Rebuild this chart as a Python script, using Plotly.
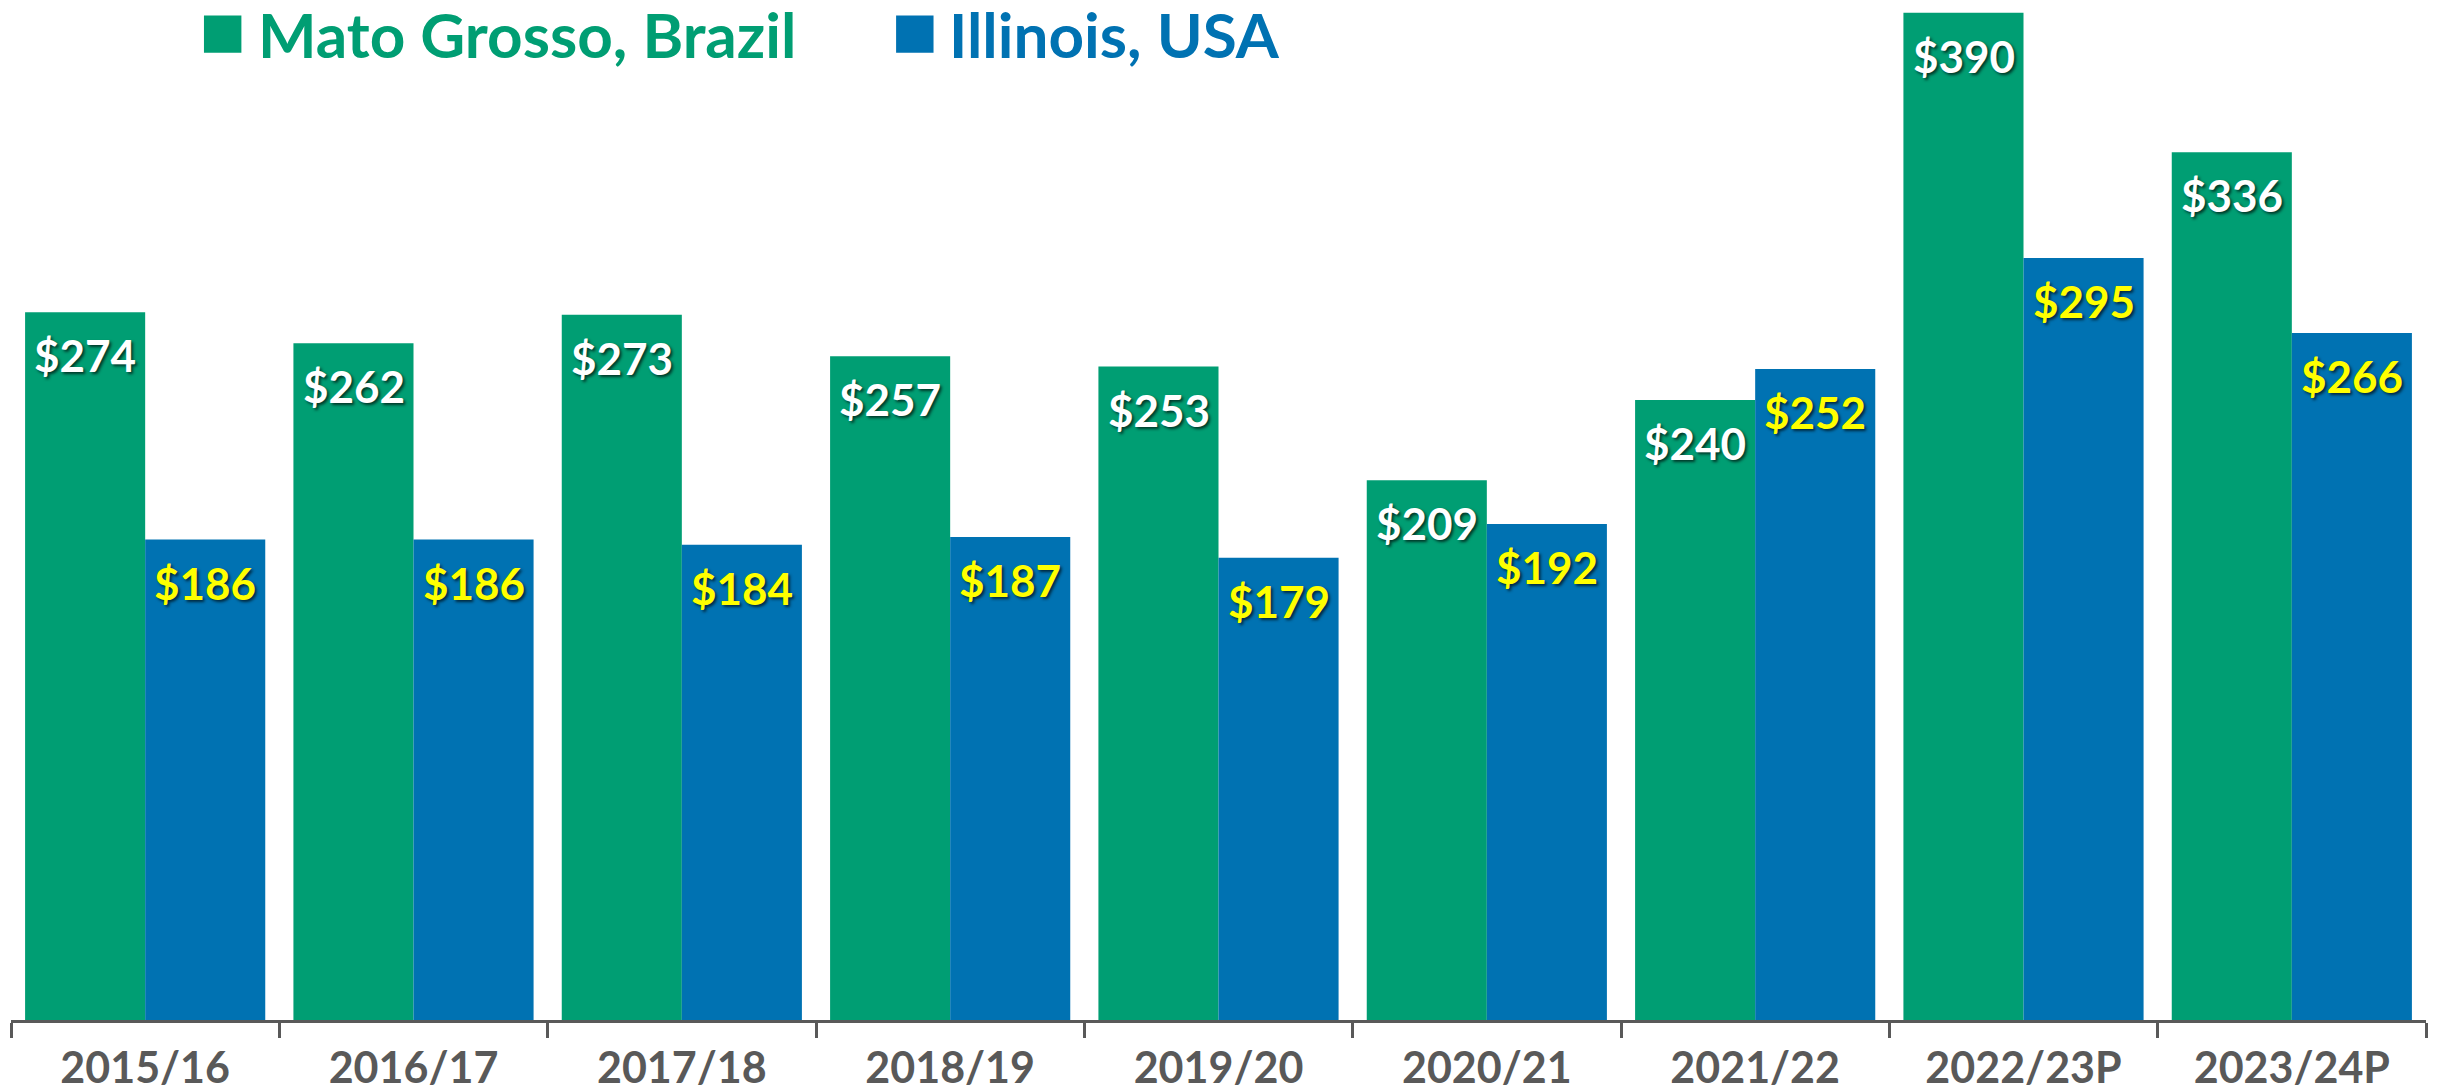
import plotly.graph_objects as go

seasons = ['2015/16', '2016/17', '2017/18', '2018/19', '2019/20',
           '2020/21', '2021/22', '2022/23P', '2023/24P']
mato_grosso = [274, 262, 273, 257, 253, 209, 240, 390, 336]
illinois = [186, 186, 184, 187, 179, 192, 252, 295, 266]

verde = '#009E73'
azul = '#0072B2'
gris = '#595959'
fuente = 'Lato'
sombra = '2px 2px 3px rgba(0,0,0,0.65)'

fig = go.Figure()
fig.add_trace(go.Bar(x=seasons, y=mato_grosso, name='Mato Grosso, Brazil',
                     marker=dict(color=verde, line=dict(width=0)), showlegend=False))
fig.add_trace(go.Bar(x=seasons, y=illinois, name='Illinois, USA',
                     marker=dict(color=azul, line=dict(width=0)), showlegend=False))

# etiquetas dentro de las barras, cerca del borde superior
anotaciones = []
for serie, desplaz, color in [(mato_grosso, -60, 'white'), (illinois, 60, '#FFFF00')]:
    for s, v in zip(seasons, serie):
        anotaciones.append(dict(
            x=s, y=v, xref='x', yref='y', text=f'${v}', showarrow=False,
            xshift=desplaz, yshift=-15, yanchor='top', xanchor='center',
            font=dict(family=fuente, size=44, color=color, weight='bold', shadow=sombra)
        ))

# leyenda manual (cuadros grandes)
leyenda = [('Mato Grosso, Brazil', verde, 0.0799, 0.1015),
           ('Illinois, USA', azul, 0.3665, 0.3876)]
formas = []
for nombre, color, x0, xt in leyenda:
    formas.append(dict(type='rect', xref='paper', yref='paper',
                       x0=x0, x1=x0 + 0.0155, y0=0.9557, y1=0.9925,
                       fillcolor=color, line=dict(width=0)))
    anotaciones.append(dict(x=xt, y=0.9744, xref='paper', yref='paper', text=nombre,
                            showarrow=False, xanchor='left', yanchor='middle',
                            font=dict(family=fuente, size=62, color=color, weight='bold')))

fig.update_layout(
    width=2432, height=1084,
    margin=dict(l=3, r=14, t=0, b=70),
    plot_bgcolor='white', paper_bgcolor='white',
    barmode='group', bargap=0.105, bargroupgap=0,
    annotations=anotaciones, shapes=formas,
    xaxis=dict(showline=True, linecolor=gris, linewidth=3,
               ticks='outside', tickson='boundaries', ticklen=15, tickwidth=3, tickcolor=gris,
               ticklabelstandoff=8,
               tickfont=dict(family=fuente, size=43, color=gris, weight='bold'),
               showgrid=False),
    yaxis=dict(range=[0, 391.8], visible=False, showgrid=False, zeroline=False),
)

fig.write_html('out.html')
